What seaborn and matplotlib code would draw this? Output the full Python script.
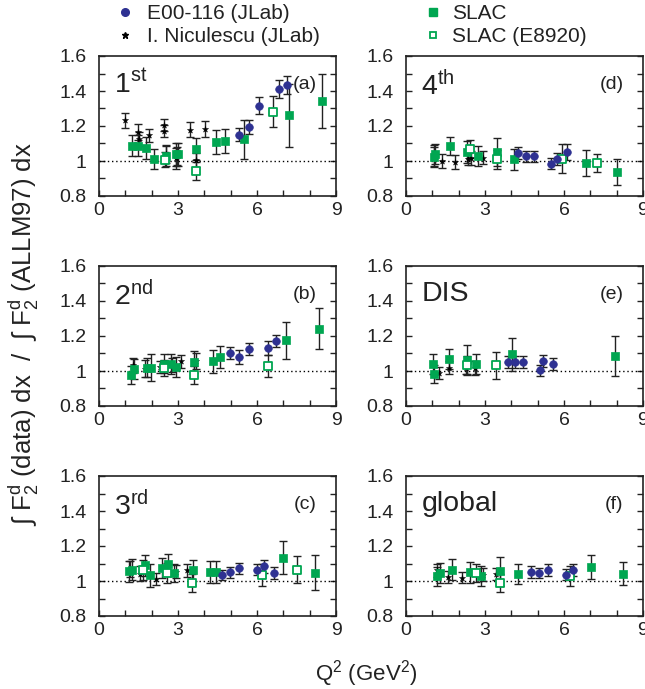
"""
Ratio of measured to ALLM97 integrated F2 (deuteron) in the resonance
regions, plotted against Q^2 for JLab and SLAC data sets.
"""

import numpy as np
import pandas as pd
import matplotlib
matplotlib.use('Agg')
import matplotlib.pyplot as plt
from matplotlib.lines import Line2D
from matplotlib.ticker import MultipleLocator, FuncFormatter
import seaborn as sns

# (Q2, ratio, error)
a_e00 = [(5.30, 1.150, 0.038), (5.68, 1.194, 0.038), (6.07, 1.316, 0.050),
         (6.83, 1.413, 0.051), (7.14, 1.436, 0.052)]
a_nic = [(1.00, 1.232, 0.045), (1.48, 1.166, 0.045), (1.52, 1.125, 0.040),
         (1.90, 1.147, 0.038), (2.46, 1.204, 0.035), (2.46, 1.171, 0.035),
         (2.53, 1.040, 0.050), (2.92, 1.015, 0.060), (2.95, 1.030, 0.050),
         (3.45, 1.180, 0.043), (3.68, 1.008, 0.040), (4.02, 1.185, 0.046)]
a_slac = [(1.25, 1.088, 0.062), (1.48, 1.088, 0.062), (1.80, 1.076, 0.062),
          (2.08, 1.013, 0.057), (2.53, 1.029, 0.057), (2.92, 1.038, 0.065),
          (3.00, 1.038, 0.065), (3.68, 1.070, 0.062), (4.44, 1.109, 0.067),
          (4.79, 1.114, 0.067), (5.50, 1.124, 0.111), (7.22, 1.261, 0.181),
          (8.48, 1.341, 0.155)]
a_e8920 = [(2.50, 1.008, 0.043), (3.68, 0.941, 0.052), (6.59, 1.282, 0.088)]

b_e00 = [(4.98, 1.103, 0.033), (5.30, 1.080, 0.038), (5.68, 1.124, 0.035),
         (6.43, 1.131, 0.041), (6.72, 1.171, 0.036)]
b_nic = [(1.29, 1.032, 0.043), (1.74, 1.013, 0.048), (2.31, 1.023, 0.036),
         (2.79, 1.032, 0.040), (3.13, 1.055, 0.038), (3.68, 1.057, 0.048)]
b_slac = [(1.23, 0.977, 0.054), (1.34, 1.011, 0.057), (1.83, 1.019, 0.055),
          (1.99, 1.019, 0.078), (2.46, 1.042, 0.053), (2.75, 1.038, 0.057),
          (2.92, 1.023, 0.055), (3.60, 1.051, 0.065), (4.33, 1.055, 0.065),
          (4.61, 1.080, 0.061), (7.12, 1.175, 0.105), (8.34, 1.242, 0.118)]
b_e8920 = [(2.46, 1.019, 0.045), (3.60, 0.977, 0.052), (6.41, 1.027, 0.064)]

c_e00 = [(4.66, 1.036, 0.029), (4.96, 1.050, 0.030), (5.31, 1.072, 0.030),
         (6.01, 1.065, 0.031), (6.26, 1.084, 0.036), (6.63, 1.046, 0.032)]
c_nic = [(1.17, 1.069, 0.048), (1.55, 1.042, 0.042), (2.18, 1.013, 0.035),
         (2.92, 1.053, 0.038), (3.35, 1.061, 0.038)]
c_slac = [(1.14, 1.057, 0.060), (1.25, 1.065, 0.061), (1.74, 1.090, 0.061),
          (1.93, 1.032, 0.067), (2.41, 1.076, 0.057), (2.62, 1.095, 0.060),
          (2.84, 1.046, 0.053), (3.57, 1.061, 0.059), (4.21, 1.051, 0.065),
          (4.44, 1.051, 0.063), (6.97, 1.133, 0.093), (8.20, 1.048, 0.100)]
c_e8920 = [(1.67, 1.065, 0.057), (2.59, 1.046, 0.057), (3.55, 0.990, 0.050),
           (6.19, 1.036, 0.062), (7.50, 1.065, 0.078)]

d_e00 = [(4.27, 1.046, 0.036), (4.56, 1.027, 0.033), (4.86, 1.027, 0.033),
         (5.51, 0.985, 0.031), (5.75, 1.010, 0.035), (6.10, 1.051, 0.048)]
d_nic = [(1.06, 1.030, 0.060), (1.37, 1.000, 0.038), (1.86, 0.994, 0.038),
         (2.37, 1.013, 0.033), (2.47, 1.020, 0.040), (2.94, 1.019, 0.036)]
d_slac = [(1.06, 1.023, 0.057), (1.11, 1.042, 0.057), (1.67, 1.084, 0.052),
          (2.33, 1.051, 0.062), (2.73, 1.029, 0.057), (3.47, 1.051, 0.081),
          (4.10, 1.010, 0.060), (6.82, 0.989, 0.076), (8.03, 0.937, 0.073)]
d_e8920 = [(2.43, 1.070, 0.050), (3.47, 1.010, 0.055), (5.92, 1.013, 0.082),
           (7.27, 0.990, 0.052)]

e_e00 = [(3.89, 1.051, 0.035), (4.14, 1.051, 0.035), (4.46, 1.051, 0.032),
         (5.10, 1.004, 0.031), (5.22, 1.055, 0.035), (5.57, 1.042, 0.034)]
e_nic = [(1.27, 0.989, 0.036), (1.65, 1.019, 0.036), (2.28, 1.019, 0.035),
         (2.63, 1.019, 0.040)]
e_slac = [(1.04, 1.042, 0.057), (1.06, 0.981, 0.052), (1.62, 1.070, 0.057),
          (2.30, 1.065, 0.086), (2.66, 1.038, 0.057), (4.03, 1.095, 0.095),
          (7.92, 1.084, 0.114)]
e_e8920 = [(2.33, 1.032, 0.051), (3.42, 1.032, 0.076)]

f_e00 = [(4.73, 1.051, 0.032), (5.04, 1.046, 0.031), (5.41, 1.061, 0.034),
         (6.09, 1.036, 0.033), (6.35, 1.061, 0.034)]
f_nic = [(1.19, 1.061, 0.036), (1.61, 1.023, 0.036), (2.11, 1.019, 0.031),
         (2.94, 1.036, 0.038), (3.42, 1.042, 0.034)]
f_slac = [(1.16, 1.027, 0.055), (1.29, 1.046, 0.055), (1.75, 1.065, 0.059),
          (2.43, 1.051, 0.060), (2.84, 1.027, 0.057), (3.57, 1.055, 0.084),
          (4.27, 1.038, 0.057), (7.01, 1.080, 0.070), (8.23, 1.042, 0.067)]
f_e8920 = [(2.66, 1.046, 0.053), (3.57, 0.990, 0.052), (6.23, 1.029, 0.059)]

panel_ids = ['a', 'b', 'c', 'd', 'e', 'f']
panel_names = [r'1$^{\mathrm{st}}$', r'2$^{\mathrm{nd}}$', r'3$^{\mathrm{rd}}$',
               r'4$^{\mathrm{th}}$', 'DIS', 'global']
series_labels = ['E00-116 (JLab)', 'I. Niculescu (JLab)', 'SLAC', 'SLAC (E8920)']
panel_data = {
    'a': [a_e00, a_nic, a_slac, a_e8920],
    'b': [b_e00, b_nic, b_slac, b_e8920],
    'c': [c_e00, c_nic, c_slac, c_e8920],
    'd': [d_e00, d_nic, d_slac, d_e8920],
    'e': [e_e00, e_nic, e_slac, e_e8920],
    'f': [f_e00, f_nic, f_slac, f_e8920],
}

# long table for plotting
rows = []
for pid in panel_ids:
    for label, pts in zip(series_labels, panel_data[pid]):
        for q2, r, err in pts:
            rows.append({'panel': pid, 'series': label, 'q2': q2, 'ratio': r, 'err': err})
df = pd.DataFrame(rows)

BLUE = '#2e3192'
GREEN = '#00a651'
INK = '#222222'
styles = {
    'E00-116 (JLab)': dict(marker='o', s=30, color=BLUE, edgecolor=BLUE, linewidth=0.5),
    'I. Niculescu (JLab)': dict(marker='*', s=22, color='black', edgecolor='black', linewidth=0.3),
    'SLAC': dict(marker='s', s=32, color=GREEN, edgecolor=GREEN, linewidth=0.5),
    'SLAC (E8920)': dict(marker='s', s=30, color='white', edgecolor=GREEN, linewidth=1.3),
}
draw_order = ['I. Niculescu (JLab)', 'SLAC', 'SLAC (E8920)', 'E00-116 (JLab)']

sns.set_theme(style='ticks')
plt.rcParams['font.family'] = ['Liberation Sans', 'DejaVu Sans']
plt.rcParams['mathtext.fontset'] = 'custom'
plt.rcParams['mathtext.rm'] = 'Liberation Sans'
plt.rcParams['mathtext.it'] = 'Liberation Sans:italic'
plt.rcParams['mathtext.bf'] = 'Liberation Sans:bold'

fig = plt.figure(figsize=(6.45, 6.89), dpi=100)

lefts = [99 / 645, 406 / 645]
bottoms = [1 - 196 / 689, 1 - 406 / 689, 1 - 616 / 689]
w = 237 / 645
h = 140 / 689

fmt = FuncFormatter(lambda v, p: f'{v:g}')

for i, pid in enumerate(panel_ids):
    col, row = divmod(i, 3)
    ax = fig.add_axes([lefts[col], bottoms[row], w, h])
    sub = df[df['panel'] == pid]

    ax.axhline(1.0, color='black', linestyle=(0, (1, 2)), linewidth=1.0, zorder=1)

    for label in draw_order:
        s = sub[sub['series'] == label]
        ax.errorbar(s['q2'], s['ratio'], yerr=s['err'], fmt='none',
                    ecolor=INK, elinewidth=1.0, capsize=2.6, capthick=1.0, zorder=2)
    for label in draw_order:
        s = sub[sub['series'] == label]
        st = styles[label]
        sns.scatterplot(data=s, x='q2', y='ratio', ax=ax, marker=st['marker'], s=st['s'],
                        color=st['color'], edgecolor=st['edgecolor'],
                        linewidth=st['linewidth'], zorder=3, legend=False)

    ax.set_xlim(0, 9)
    ax.set_ylim(0.8, 1.6)
    ax.xaxis.set_major_locator(MultipleLocator(3))
    ax.xaxis.set_minor_locator(MultipleLocator(1))
    ax.yaxis.set_major_locator(MultipleLocator(0.2))
    ax.yaxis.set_minor_locator(MultipleLocator(0.1))
    ax.yaxis.set_major_formatter(fmt)
    ax.tick_params(which='both', direction='in', top=False, right=True,
                   length=4.5, width=1.0, color=INK)
    ax.tick_params(which='major', labelsize=14, labelcolor=INK)
    ax.tick_params(axis='y', which='major', pad=9)
    ax.tick_params(axis='x', which='major', pad=4)
    ax.set_xlabel('')
    ax.set_ylabel('')
    for sp in ax.spines.values():
        sp.set_linewidth(1.2)
        sp.set_color(INK)

    ax.text(0.065, 0.895, panel_names[i], transform=ax.transAxes, ha='left', va='top',
            fontsize=20.5, color=INK)
    ax.text(0.918, 0.855, f'({pid})', transform=ax.transAxes, ha='right', va='top',
            fontsize=14, color=INK)

# legend at the top, two columns
h_left = [Line2D([], [], linestyle='none', marker='o', markersize=5.5, color=BLUE),
          Line2D([], [], linestyle='none', marker='*', markersize=5, color='black')]
h_right = [Line2D([], [], linestyle='none', marker='s', markersize=5.5, color=GREEN),
           Line2D([], [], linestyle='none', marker='s', markersize=5, markerfacecolor='white',
                  markeredgecolor=GREEN, markeredgewidth=1.3)]
leg_kw = dict(frameon=False, fontsize=15, handlelength=0.8, borderpad=0,
              labelspacing=0.2, borderaxespad=0, labelcolor=INK)
fig.legend(h_left, series_labels[:2], loc='upper left', bbox_to_anchor=(0.181, 0.994),
           handletextpad=0.64, **leg_kw)
fig.legend(h_right, series_labels[2:], loc='upper left', bbox_to_anchor=(0.658, 0.994),
           handletextpad=0.51, **leg_kw)

fig.text(0.037, 0.515,
         r'$\int$ F$_2^{\mathrm{d}}$ (data) dx  /  $\int$ F$_2^{\mathrm{d}}$ (ALLM97) dx',
         rotation=90, ha='center', va='center', fontsize=18.5, color=INK)
fig.text(0.568, 0.023, r'Q$^2$ (GeV$^2$)', ha='center', va='center',
         fontsize=16, color=INK)

fig.savefig('out.png', dpi=100)
